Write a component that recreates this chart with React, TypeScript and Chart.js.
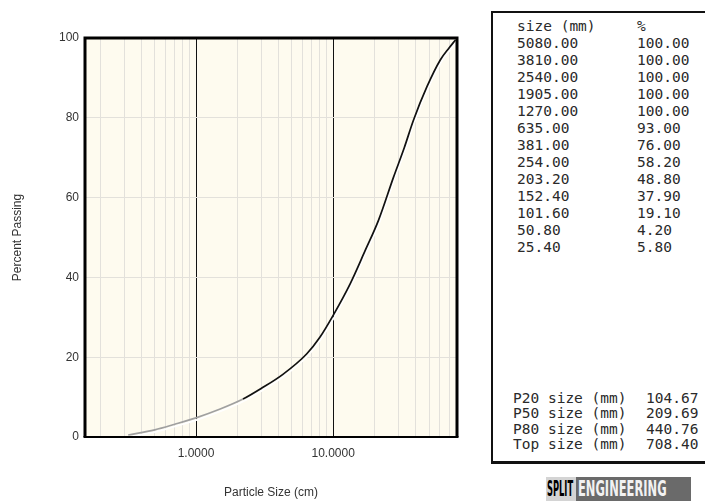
import React, { useEffect, useRef } from 'react';
import { Chart, registerables } from 'chart.js';

Chart.register(...registerables);

// Fitted passing curve (particle size in cm, % passing)
const curveSizes = [0.32, 0.5, 0.7, 1.0, 1.5, 2.2, 3.0, 4.3, 6.4, 8.0, 10.0, 13.3, 17.1, 21.4, 27.6, 33.0, 38.5, 48.3, 60.4, 70.0, 78.0];
const curvePassing = [0.5, 1.8, 3.2, 4.8, 7.0, 9.5, 12.2, 15.7, 20.8, 25.0, 30.5, 38.4, 46.7, 54.3, 65.2, 72.5, 79.4, 87.8, 94.5, 97.5, 99.5];

// Axis ticks
const xGridTicks = [0.2, 0.3, 0.4, 0.5, 0.6, 0.7, 0.8, 0.9, 1, 2, 3, 4, 5, 6, 7, 8, 9, 10, 20, 30, 40, 50, 60, 70, 80];
const xLabelTicks = [1, 10];
const xMin = 0.155;
const xMax = 80;
const yMin = 0;
const yMax = 100;
const yStep = 20;

// Table of sieve sizes
const tableHeader = ['size (mm)', '%'];
const tableSizes = ['5080.00', '3810.00', '2540.00', '1905.00', '1270.00', '635.00', '381.00', '254.00', '203.20', '152.40', '101.60', '50.80', '25.40'];
const tablePercents = ['100.00', '100.00', '100.00', '100.00', '100.00', '93.00', '76.00', '58.20', '48.80', '37.90', '19.10', '4.20', '5.80'];

// Summary sizes
const summaryLabels = ['P20 size (mm)', 'P50 size (mm)', 'P80 size (mm)', 'Top size (mm)'];
const summaryValues = ['104.67', '209.69', '440.76', '708.40'];

const framePlugin = {
  id: 'frame',
  beforeDraw(chart: any) {
    const { ctx, chartArea: a } = chart;
    ctx.save();
    ctx.fillStyle = '#fefbef';
    ctx.fillRect(a.left, a.top, a.right - a.left, a.bottom - a.top);
    ctx.restore();
  },
  beforeDatasetsDraw(chart: any) {
    const ctx = chart.ctx;
    ctx.save();
    ctx.shadowColor = 'rgba(255,255,255,1)';
    ctx.shadowOffsetX = 1;
    ctx.shadowOffsetY = 2;
    ctx.shadowBlur = 0;
  },
  afterDatasetsDraw(chart: any) {
    chart.ctx.restore();
  },
  afterDraw(chart: any) {
    const { ctx, chartArea: a } = chart;
    ctx.save();
    ctx.strokeStyle = '#000';
    ctx.lineWidth = 3;
    ctx.beginPath();
    ctx.moveTo(a.left, a.bottom);
    ctx.lineTo(a.left, a.top);
    ctx.lineTo(a.right, a.top);
    ctx.lineTo(a.right, a.bottom);
    ctx.stroke();
    ctx.lineWidth = 2;
    ctx.beginPath();
    ctx.moveTo(a.left - 1.5, a.bottom);
    ctx.lineTo(a.right + 1.5, a.bottom);
    ctx.stroke();
    ctx.restore();
  },
};

function GradationChart() {
  const ref = useRef<HTMLCanvasElement | null>(null);
  useEffect(() => {
    if (!ref.current) return;
    const tickFont = { family: "'Liberation Sans', Arial, sans-serif", size: 12 };
    const chart = new Chart(ref.current, {
      type: 'line',
      data: {
        datasets: [
          {
            data: curveSizes.map((x, i) => ({ x, y: curvePassing[i] })),
            borderColor: '#111',
            borderWidth: 1.7,
            pointRadius: 0,
            cubicInterpolationMode: 'monotone',
            segment: {
              borderColor: (c: any) => (c.p0.parsed.x < 2 ? '#a0a0a0' : '#111'),
            },
          } as any,
        ],
      },
      options: {
        animation: false,
        responsive: false,
        maintainAspectRatio: false,
        layout: { padding: { left: 0, top: 38, right: 23, bottom: 0 } },
        plugins: { legend: { display: false }, tooltip: { enabled: false } },
        scales: {
          x: {
            type: 'logarithmic',
            min: xMin,
            max: xMax,
            afterBuildTicks: (s: any) => {
              s.ticks = xGridTicks.map((v) => ({ value: v }));
            },
            afterFit: (s: any) => {
              s.height = 66;
            },
            ticks: {
              autoSkip: false,
              maxRotation: 0,
              padding: 9,
              color: '#333',
              font: tickFont,
              callback: (v: any) => (xLabelTicks.includes(Number(v)) ? Number(v).toFixed(4) : ''),
            },
            grid: {
              color: (c: any) => (c.tick && xLabelTicks.includes(c.tick.value) ? '#111' : '#e3e1db'),
              lineWidth: 1,
              drawTicks: false,
            },
            border: { display: false },
            title: {
              display: true,
              text: 'Particle Size (cm)',
              color: '#333',
              font: tickFont,
              padding: { top: 0, bottom: 3 },
            },
          } as any,
          y: {
            min: yMin,
            max: yMax,
            afterFit: (s: any) => {
              s.width = 85;
            },
            ticks: {
              stepSize: yStep,
              padding: 6,
              color: '#333',
              font: tickFont,
            },
            grid: { color: '#e3e1db', lineWidth: 1, drawTicks: false },
            border: { display: false },
            title: {
              display: true,
              text: 'Percent Passing',
              color: '#333',
              font: tickFont,
              padding: { top: 10, bottom: 0 },
            },
          } as any,
        },
      },
      plugins: [framePlugin],
    });
    return () => chart.destroy();
  }, []);
  return <canvas ref={ref} width={480} height={503} style={{ position: 'absolute', left: 0, top: 0 }} />;
}

export default function App() {
  const mono = "'DejaVu Sans Mono', 'Liberation Mono', monospace";
  const rowH = 17;
  const firstRowY = 26; // centre of header row (page coords)
  const boxTop = 11;
  const boxLeft = 491;
  return (
    <div
      style={{
        position: 'fixed',
        left: 0,
        top: 0,
        width: 705,
        height: 503,
        overflow: 'hidden',
        background: '#fff',
      }}
    >
      <GradationChart />
      <div
        style={{
          position: 'absolute',
          left: boxLeft,
          top: boxTop,
          width: 240,
          height: 448,
          borderLeft: '2px solid #111',
          borderTop: '2px solid #111',
          borderBottom: '3px solid #111',
          fontFamily: mono,
          fontSize: 14.5,
          color: '#2a2a2a',
          whiteSpace: 'pre',
        }}
      >
        {[tableHeader[0], ...tableSizes].map((s, i) => (
          <div
            key={'r' + i}
            style={{
              position: 'absolute',
              left: 517 - boxLeft - 2,
              top: firstRowY + i * rowH - boxTop - 2 - rowH / 2,
              height: rowH,
              lineHeight: rowH + 'px',
            }}
          >
            {s}
          </div>
        ))}
        {[tableHeader[1], ...tablePercents].map((s, i) => (
          <div
            key={'p' + i}
            style={{
              position: 'absolute',
              left: 637 - boxLeft - 2,
              top: firstRowY + i * rowH - boxTop - 2 - rowH / 2,
              height: rowH,
              lineHeight: rowH + 'px',
            }}
          >
            {s}
          </div>
        ))}
        {summaryLabels.map((s, i) => (
          <div
            key={'s' + i}
            style={{
              position: 'absolute',
              left: 513 - boxLeft - 2,
              top: 398 + i * 15.5 - boxTop - 2 - rowH / 2,
              height: rowH,
              lineHeight: rowH + 'px',
            }}
          >
            {s}
          </div>
        ))}
        {summaryValues.map((s, i) => (
          <div
            key={'v' + i}
            style={{
              position: 'absolute',
              left: 646 - boxLeft - 2,
              top: 398 + i * 15.5 - boxTop - 2 - rowH / 2,
              height: rowH,
              lineHeight: rowH + 'px',
            }}
          >
            {s}
          </div>
        ))}
      </div>
      <div
        style={{
          position: 'absolute',
          left: 546,
          top: 477,
          width: 145,
          height: 24,
          display: 'flex',
          fontFamily: "'DejaVu Sans Condensed', 'DejaVu Sans', sans-serif",
          fontWeight: 'bold',
          fontSize: 22,
          lineHeight: '24px',
          overflow: 'hidden',
        }}
      >
        <div style={{ width: 30, background: '#d4d4d4', color: '#000', overflow: 'hidden' }}>
          <span style={{ display: 'inline-block', transform: 'scaleX(0.42)', transformOrigin: 'left center', marginLeft: 1 }}>SPLIT</span>
        </div>
        <div style={{ width: 115, background: '#6a6a6a', color: '#f2f2f2', overflow: 'hidden' }}>
          <span style={{ display: 'inline-block', transform: 'scaleX(0.58)', transformOrigin: 'left center', marginLeft: 2 }}>ENGINEERING</span>
        </div>
      </div>
    </div>
  );
}
